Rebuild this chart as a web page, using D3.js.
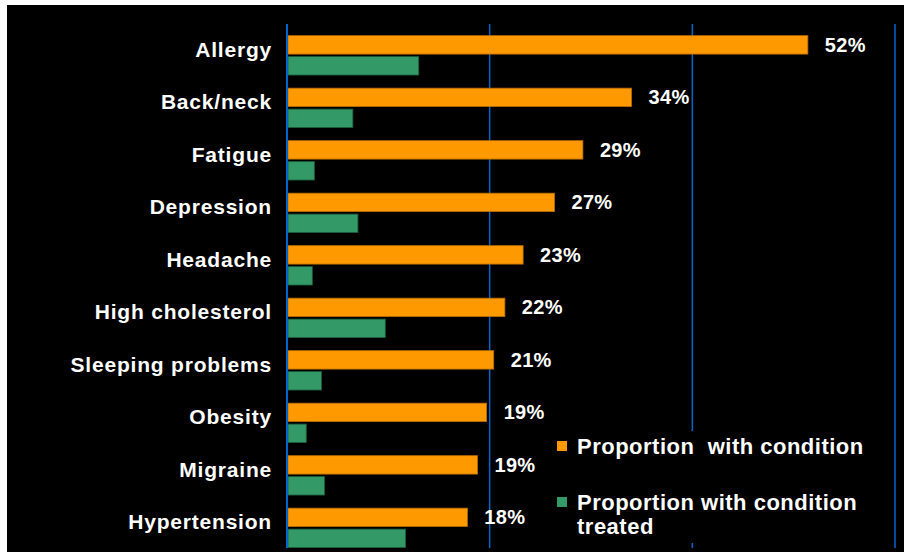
<!DOCTYPE html>
<html>
<head>
<meta charset="utf-8">
<script src="https://cdn.jsdelivr.net/npm/d3@7"></script>
<style>
  html, body { margin: 0; padding: 0; background: #fff; }
  svg { display: block; }
  text { font-family: 'Liberation Sans', Arial, sans-serif; font-weight: bold; fill: #fff; }
</style>
</head>
<body>
<svg id="chart" width="904" height="553"></svg>
<script>
// data
const conditions = ['Allergy', 'Back/neck', 'Fatigue', 'Depression', 'Headache',
  'High cholesterol', 'Sleeping problems', 'Obesity', 'Migraine', 'Hypertension']
const withCondition = [51.4, 34.0, 29.2, 26.4, 23.3, 21.5, 20.4, 19.7, 18.8, 17.8]
const treated = [13.0, 6.5, 2.7, 7.0, 2.5, 9.7, 3.4, 1.9, 3.7, 11.7]
const valueLabels = ['52%', '34%', '29%', '27%', '23%', '22%', '21%', '19%', '19%', '18%']
const seriesNames = ['Proportion  with condition', 'Proportion with condition treated']
const gridTicks = [20, 40, 60]

const width = 904, height = 553
const colors = ['#ff9900', '#339966']
const strokes = ['#b86e00', '#1d5c3c']

const svg = d3.select('#chart')

// black slide background
svg.append('rect')
  .attr('x', 7).attr('y', 5)
  .attr('width', width - 7).attr('height', 547)
  .attr('fill', '#000')

const x = d3.scaleLinear().domain([0, 60]).range([287, 895])

const y = d3.scaleBand()
  .domain(conditions)
  .range([29.1, 554.1])
  .paddingInner(0.25)
  .paddingOuter(0.125)

const ySub = d3.scaleBand()
  .domain([0, 1])
  .range([0, y.bandwidth()])
  .paddingInner(0.12)

// gridlines
svg.append('g')
  .selectAll('line')
  .data(gridTicks)
  .join('line')
  .attr('x1', d => x(d)).attr('x2', d => x(d))
  .attr('y1', 24).attr('y2', 548)
  .attr('stroke', '#0066cc')
  .attr('stroke-width', 1.5)

const groups = svg.append('g')
  .selectAll('g')
  .data(conditions)
  .join('g')
  .attr('transform', d => 'translate(0,' + y(d) + ')')

groups.append('rect')
  .attr('x', x(0) + 1)
  .attr('y', ySub(0))
  .attr('width', (d, i) => x(withCondition[i]) - x(0) - 1)
  .attr('height', ySub.bandwidth())
  .attr('fill', colors[0])
  .attr('stroke', strokes[0])
  .attr('stroke-width', 0.8)

groups.append('rect')
  .attr('x', x(0) + 1)
  .attr('y', ySub(1))
  .attr('width', (d, i) => x(treated[i]) - x(0) - 1)
  .attr('height', ySub.bandwidth())
  .attr('fill', colors[1])
  .attr('stroke', strokes[1])
  .attr('stroke-width', 0.8)

// category labels
groups.append('text')
  .attr('x', 272)
  .attr('y', 21)
  .attr('text-anchor', 'end')
  .style('font-size', '21px')
  .style('letter-spacing', '0.8px')
  .text(d => d)

// value labels
groups.append('text')
  .attr('x', (d, i) => x(withCondition[i]) + 17)
  .attr('y', ySub(0) + ySub.bandwidth() / 2 + 7)
  .style('font-size', '20px')
  .style('letter-spacing', '0.3px')
  .text((d, i) => valueLabels[i])

// axis line
svg.append('line')
  .attr('x1', x(0)).attr('x2', x(0))
  .attr('y1', 24).attr('y2', 548)
  .attr('stroke', '#0066cc')
  .attr('stroke-width', 2)

// legend
const legend = svg.append('g').attr('transform', 'translate(548,431)')
legend.append('rect')
  .attr('width', 336).attr('height', 112)
  .attr('fill', '#000')

const items = legend.selectAll('g.item')
  .data(seriesNames)
  .join('g')
  .attr('class', 'item')
  .attr('transform', (d, i) => 'translate(0,' + (i * 56) + ')')

items.append('rect')
  .attr('x', 9).attr('y', 10)
  .attr('width', 10).attr('height', 10)
  .attr('fill', (d, i) => colors[i])

items.append('text')
  .attr('x', 29)
  .attr('y', 23)
  .style('font-size', '22px')
  .style('letter-spacing', '0.5px')
  .style('white-space', 'pre')
  .each(function(d, i) {
    const t = d3.select(this)
    if (i === 0) {
      t.text(d)
    } else {
      t.append('tspan').attr('x', 29).text('Proportion with condition')
      t.append('tspan').attr('x', 29).attr('dy', 24).text('treated')
    }
  })
</script>
</body>
</html>
